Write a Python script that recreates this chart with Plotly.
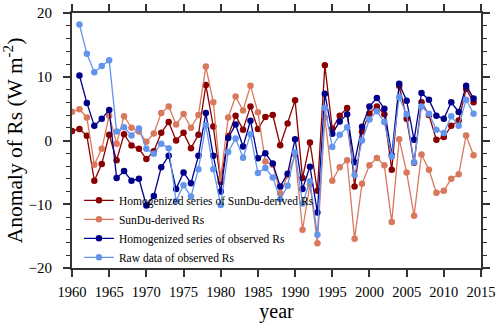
import plotly.graph_objects as go

years = list(range(1960, 2015))

homog_sundu = [1.5, 1.8, 0.75, -6.3, -3.7, 0.9, -3.1, 1.0, -0.8, -1.3,
               -2.9, -1.7, 1.2, 2.9, 0.0, 1.2, -1.2, 0.9, 8.7, 2.2,
               -6.5, 0.7, 3.9, 1.7, 5.35, 1.8, 3.7, 4.0, -0.75, 2.65,
               6.3, -5.9, -0.3, -7.9, 11.8, 1.85, 3.9, 5.1, -7.2, 1.4,
               4.25, 5.35, 4.1, -4.6, 8.6, 3.4, -3.5, 6.0, 4.0, 0.1,
               0.55, 2.3, 3.15, 8.1, 6.0]

sundu = [4.5, 4.9, 3.6, -3.8, -1.3, 3.9, -0.5, 3.8, 2.0, 1.4,
         -0.2, 1.1, 4.3, 5.35, 2.5, 4.15, 2.0, 4.0, 11.6, 6.0,
         -6.0, 3.6, 6.9, 4.7, 8.6, 4.45, -3.3, -3.8, -8.3, -5.5,
         -2.2, -14.0, -6.9, -16.1, 3.6, -6.3, -4.2, -3.1, -15.4, -6.8,
         -3.9, -2.75, -3.9, -12.8, 0.2, -5.0, -11.8, -2.2, -4.6, -8.2,
         -7.9, -6.0, -5.3, 0.8, -2.3]

homog_obs = [None, 10.2, 5.9, 2.3, 3.4, 4.8, -5.9, -4.8, -6.3, -6.0,
             -10.2, -8.7, -4.2, -2.4, -7.6, -5.0, -6.7, -2.4, 4.3, -2.4,
             -8.0, 0.4, 2.5, -0.95, 3.1, -2.8, -2.0, -3.6, -7.2, -5.2,
             0.2, -7.6, -4.1, -11.3, 7.35, 1.07, 3.0, 4.1, -3.4, 2.15,
             5.35, 6.65, 5.0, -2.3, 8.9, 6.25, 0.1, 7.45, 6.4, 3.9,
             3.4, 6.0, 4.47, 8.6, 6.6]

raw_obs = [None, 18.2, 13.6, 10.7, 11.7, 12.6, 1.4, 2.06, 0.8, 1.9,
           -1.3, -2.07, -0.5, -1.2, -9.5, -7.0, -8.8, -4.5, 2.4, -4.5,
           -10.1, -1.8, 0.3, -2.7, 1.0, -5.1, -4.3, -5.8, -9.2, -7.1,
           -1.9, -9.9, -6.4, -14.8, 5.1, -1.0, 0.9, 2.06, -5.4, 0.0,
           3.3, 4.6, 2.9, -2.5, 6.8, 4.1, -3.4, 5.35, 4.2, 1.7,
           1.17, 3.8, 2.3, 6.4, 4.2]

series_names = ["Homogenized series of SunDu-derived Rs",
                "SunDu-derived Rs",
                "Homogenized series of observed Rs",
                "Raw data of observed Rs"]
series_values = [homog_sundu, sundu, homog_obs, raw_obs]
series_colors = ["#8b0000", "#d9785b", "#00008b", "#6495ed"]

FONT = "Liberation Serif, Times New Roman, serif"

fig = go.Figure()
for name, vals, col in zip(series_names, series_values, series_colors):
    fig.add_trace(go.Scatter(
        x=years, y=vals, name=name, mode="lines+markers",
        line=dict(color=col, width=1.3),
        marker=dict(color=col, size=6.5),
        connectgaps=False,
    ))

axis_common = dict(
    showline=True, linecolor="#333", linewidth=2, mirror="ticks",
    ticks="outside", tickcolor="#333", tickwidth=1.5,
    showgrid=False, zeroline=False, automargin=False,
)

fig.update_xaxes(
    range=[1960, 2015], dtick=5, tick0=1960, ticklen=7,
    ticklabelstandoff=3,
    tickfont=dict(family=FONT, size=14.5, color="black"),
    title=dict(text="year", font=dict(family=FONT, size=20, color="black"), standoff=2),
    **axis_common,
)
fig.update_yaxes(
    range=[-20, 20], dtick=10, tick0=0, ticklen=7,
    minor=dict(dtick=2, ticks="outside", ticklen=4, tickcolor="#333", tickwidth=1.2),
    ticklabelstandoff=8,
    tickfont=dict(family=FONT, size=15, color="black"),
    title=dict(text="Anomaly of Rs (W m<sup>-2</sup>)", font=dict(family=FONT, size=21.5, color="black"), standoff=7),
    **axis_common,
)

fig.update_layout(
    width=500, height=328,
    margin=dict(l=72, r=19, t=13, b=60, autoexpand=False),
    plot_bgcolor="white", paper_bgcolor="white",
    showlegend=True,
    legend=dict(
        x=0.017, y=-0.015, xanchor="left", yanchor="bottom",
        bgcolor="rgba(0,0,0,0)", borderwidth=0,
        font=dict(family=FONT, size=11.5, color="black"),
        tracegroupgap=0, itemwidth=30,
    ),
)

fig.write_html("out.html", config={"displayModeBar": False},
               post_script="document.body.style.margin='0';")
